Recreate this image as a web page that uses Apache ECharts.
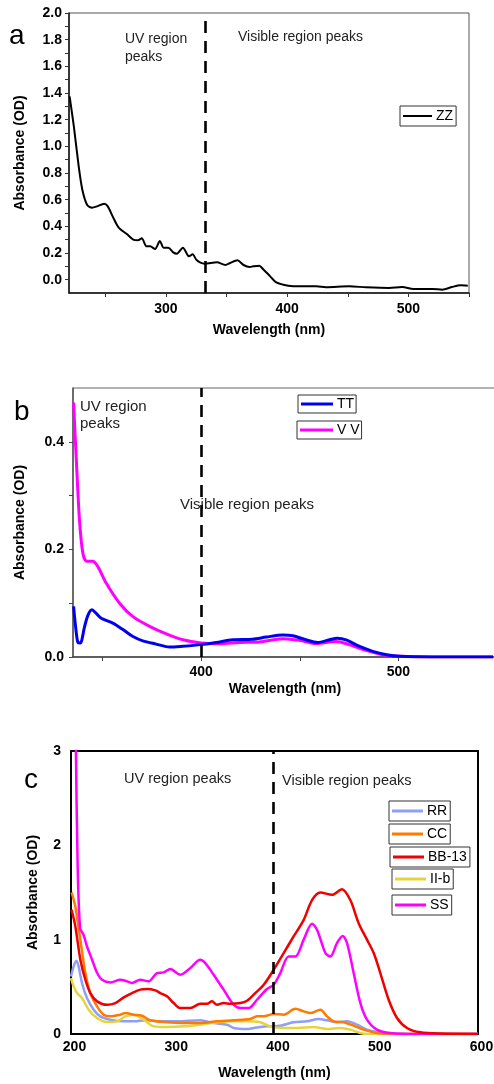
<!DOCTYPE html>
<html><head><meta charset="utf-8">
<script src="https://cdn.jsdelivr.net/npm/echarts@6/dist/echarts.min.js"></script>
<style>html,body{margin:0;padding:0;background:#fff}#c{width:494px;height:1084px}</style>
</head><body><div id="c"></div>
<script>
// ---------- Panel a ----------
const zzWl  = [220.5,224,228,231,235,239,243,249,252,256,261,268,273,277,280,284,287,291,295,298,302,306,309,314,319,322,325,328,332,342,349,353,359,364,369,372,377,380,386,391,401,410,424,432,451,465,484,495,504,520,528,536,543,549];
const zzAbs = [1.375,1.15,0.85,0.675,0.56,0.54,0.55,0.57,0.55,0.475,0.39,0.34,0.30,0.295,0.31,0.25,0.25,0.23,0.29,0.24,0.24,0.205,0.195,0.24,0.175,0.19,0.15,0.13,0.12,0.13,0.11,0.125,0.145,0.11,0.095,0.10,0.105,0.08,0.025,-0.02,-0.045,-0.05,-0.05,-0.057,-0.05,-0.057,-0.062,-0.055,-0.07,-0.07,-0.075,-0.055,-0.042,-0.045];
const aXTicks = [250,300,350,400,450,500,550];
const aXLabels = [300,400,500];
const aYTicks = [0,0.1,0.2,0.3,0.4,0.5,0.6,0.7,0.8,0.9,1.0,1.1,1.2,1.3,1.4,1.5,1.6,1.7,1.8,1.9,2.0];
const aYLabels = [0,0.2,0.4,0.6,0.8,1.0,1.2,1.4,1.6,1.8,2.0];

// ---------- Panel b ----------
const ttWl  = [335.3,336.3,337.5,338.7,340.9,342.6,344.6,346.8,349.3,355.2,360.3,365.4,370.4,377.2,384,390.7,400,407.6,416,426,433,441.4,446.5,453,459,465,469,473.5,480,487,494,500.5,517,548];
const ttAbs = [0.094,0.057,0.027,0.026,0.057,0.078,0.088,0.081,0.072,0.063,0.051,0.038,0.030,0.024,0.0185,0.02,0.023,0.027,0.032,0.033,0.037,0.041,0.0395,0.032,0.027,0.032,0.035,0.032,0.02,0.0105,0.0043,0.0012,0,0];
const vvWl  = [335.3,336.7,338.3,340,342,345,347.6,351.9,358.6,365.4,373.8,382.3,390.7,400,409.3,419.4,429.6,441.4,449.8,458.3,468.4,475,483.6,492,500.5,517,548];
const vvAbs = [0.473,0.365,0.254,0.193,0.178,0.178,0.168,0.137,0.10,0.075,0.057,0.043,0.032,0.026,0.0247,0.027,0.028,0.034,0.031,0.025,0.029,0.023,0.0123,0.0043,0.0012,0,0];
const bXTicks = [350,400,450,500];
const bXLabels = [400,500];
const bYTicks = [0,0.1,0.2,0.3,0.4];
const bYLabels = [0,0.2,0.4];

// ---------- Panel c ----------
const ssWl  = [204.5,206.5,209,212.4,215.7,220.6,225.6,230.5,238.7,248.5,253.4,260,268,276.3,284.5,291,297.6,307.5,317.3,327,332,340.2,350,359.9,366.4,374.6,382.8,392.6,399.2,405.7,413.9,420.5,428.7,436.9,441.8,450,454.9,461.4,467,471.3,477.8,484.4,490.9,500.7,513.8,540,600];
const ssAbs = [3.3,1.8,1.12,1.05,0.93,0.79,0.65,0.575,0.547,0.575,0.565,0.54,0.575,0.558,0.646,0.653,0.688,0.628,0.70,0.787,0.752,0.628,0.47,0.31,0.275,0.275,0.363,0.477,0.522,0.646,0.822,0.822,1.0,1.17,1.105,0.858,0.822,0.964,1.04,0.964,0.646,0.328,0.152,0.046,0.01,0,0];
const bbWl  = [200.6,204.3,209.2,214.1,219,225.6,235.4,243.6,251.8,260,268.1,274.7,282.9,287.8,294.3,300.9,307.5,317.3,327.1,333.7,338.6,343.5,350,356.6,366.4,373,379.5,389.4,399.2,409,418.8,428.7,436.9,445.1,456.6,466.3,474.5,482.7,490.9,497.5,504,512.2,520.4,530.2,543.3,563,600];
const bbAbs = [1.317,1.14,0.787,0.575,0.434,0.346,0.31,0.328,0.388,0.434,0.47,0.476,0.462,0.434,0.40,0.328,0.275,0.275,0.32,0.32,0.346,0.31,0.328,0.32,0.328,0.353,0.417,0.522,0.681,0.858,1.034,1.21,1.42,1.50,1.475,1.535,1.42,1.175,1.0,0.858,0.646,0.363,0.17,0.064,0.018,0.004,0];
const ccWl  = [200.6,204.3,209.2,214.1,219,225.6,232.1,238.7,248.5,253.4,261.6,269.8,278,294.3,310.7,327.1,343.5,359.9,376.3,382.8,389.4,399.2,409,420.5,428.7,435.2,445.1,451.6,458.2,468,477.8,487.6,500.7,523.7,600];
const ccAbs = [1.50,1.35,1.0,0.646,0.434,0.293,0.205,0.187,0.205,0.222,0.205,0.194,0.145,0.124,0.116,0.116,0.134,0.145,0.159,0.187,0.187,0.212,0.205,0.268,0.24,0.222,0.258,0.187,0.134,0.124,0.088,0.046,0.01,0,0];
const rrWl  = [200,202.6,205.2,207.5,210.8,215.7,222.3,228.8,238.7,251.8,261.6,274.7,287.8,304.2,327.1,340.2,353.3,359.9,373,379.5,392.6,405.7,418.8,431.9,443.4,451.6,461.4,471.3,481.1,490.9,507.3,523.7,600];
const rrAbs = [0.61,0.717,0.777,0.717,0.54,0.381,0.258,0.187,0.152,0.134,0.134,0.145,0.134,0.134,0.145,0.116,0.099,0.064,0.053,0.064,0.081,0.088,0.124,0.134,0.159,0.145,0.124,0.134,0.099,0.046,0.01,0,0];
const iiWl  = [200,202.6,205.9,210.8,217.4,225.6,235.4,245.2,253.4,261.6,271.4,281.2,294.3,310.7,327.1,343.5,359.9,373,386.1,395.9,409,422.1,438.5,451.6,464.7,474.5,484.4,490.9,600];
const iiAbs = [0.593,0.505,0.434,0.381,0.258,0.17,0.127,0.134,0.187,0.205,0.152,0.081,0.074,0.081,0.099,0.124,0.134,0.134,0.124,0.081,0.064,0.064,0.074,0.053,0.064,0.046,0.01,0,0];
const cXLabels = [200,300,400,500,600];
const cYLabels = [0,1,2,3];

const dividers = [332, 400, 399];
const panelLetters = ['a','b','c'];

const zip = (a,b)=>a.map((v,i)=>[v,b[i]]);
const FONT = '"Liberation Sans", Arial, sans-serif';
const lblBold = {fontFamily:FONT, fontWeight:'bold', fontSize:14, color:'#000'};
const nameBold = {fontFamily:FONT, fontWeight:'bold', fontSize:14, color:'#000'};

function mk(divX, color){
  return {silent:true, symbol:['none','none'], label:{show:false},
    lineStyle:{color:color||'#000', type:[12,8], width:2.6}, data:[{xAxis:divX}]};
}
function legendBox(name, left, top, extra){
  return Object.assign({
    data:[name], left:left, top:top, orient:'horizontal', selectedMode:false,
    icon:'rect', itemWidth:30, itemHeight:3, itemGap:0,
    padding:[2,3,2,3], borderColor:'#333', borderWidth:1,
    textStyle:{fontFamily:FONT, fontSize:14, color:'#000', lineHeight:16, padding:[0,0,0,-1]}
  }, extra||{});
}

const option = {
  animation:false,
  backgroundColor:'#fff',
  grid:[
    {left:69, top:13, width:400, height:280, show:true, borderColor:'#555', borderWidth:1, backgroundColor:'transparent', outerBoundsMode:'none'},
    {left:73, top:388, width:424, height:269, show:true, borderColor:'#666', borderWidth:1, backgroundColor:'transparent', outerBoundsMode:'none'},
    {left:71, top:751, width:407, height:283, show:true, borderColor:'#000', borderWidth:2, backgroundColor:'transparent', outerBoundsMode:'none'}
  ],
  xAxis:[
    {gridIndex:0, type:'value', min:220, max:550, name:'Wavelength (nm)', nameLocation:'middle', nameGap:30, nameTextStyle:nameBold,
     axisLine:{onZero:false, lineStyle:{color:'#111', width:1.5}},
     axisTick:{show:true, length:4, customValues:aXTicks, lineStyle:{color:'#333'}},
     axisLabel:Object.assign({margin:9, customValues:aXLabels}, lblBold), splitLine:{show:false}},
    {gridIndex:1, type:'value', min:335, max:550, name:'Wavelength (nm)', nameLocation:'middle', nameGap:25, nameTextStyle:nameBold,
     axisLine:{onZero:false, lineStyle:{color:'#444', width:1.5}},
     axisTick:{show:true, length:4, customValues:bXTicks, lineStyle:{color:'#444'}},
     axisLabel:Object.assign({margin:8, customValues:bXLabels}, lblBold), splitLine:{show:false}},
    {gridIndex:2, type:'value', min:200, max:600, interval:100, name:'Wavelength (nm)', nameLocation:'middle', nameGap:32, nameTextStyle:nameBold,
     axisLine:{onZero:false, lineStyle:{color:'#000', width:2}},
     axisTick:{show:false},
     axisLabel:Object.assign({margin:6, customValues:cXLabels, padding:[0,0,0,7]}, lblBold), splitLine:{show:false}}
  ],
  yAxis:[
    {gridIndex:0, type:'value', min:-0.1, max:2.0, name:'Absorbance (OD)', nameLocation:'middle', nameGap:42, nameTextStyle:nameBold,
     axisLine:{onZero:false, lineStyle:{color:'#111', width:1.5}},
     axisTick:{show:true, length:4, customValues:aYTicks, lineStyle:{color:'#333'}},
     axisLabel:Object.assign({margin:7, customValues:aYLabels, formatter:v=>Number(v).toFixed(1)}, lblBold), splitLine:{show:false}},
    {gridIndex:1, type:'value', min:0, max:0.5, name:'Absorbance (OD)', nameLocation:'middle', nameGap:46, nameTextStyle:nameBold,
     axisLine:{onZero:false, lineStyle:{color:'#555', width:1.5}},
     axisTick:{show:true, length:4, customValues:bYTicks, lineStyle:{color:'#444'}},
     axisLabel:Object.assign({margin:9, customValues:bYLabels, formatter:v=>Number(v).toFixed(1)}, lblBold), splitLine:{show:false}},
    {gridIndex:2, type:'value', min:0, max:3, interval:1, name:'Absorbance (OD)', nameLocation:'middle', nameGap:31, nameTextStyle:nameBold,
     axisLine:{onZero:false, lineStyle:{color:'#000', width:2}},
     axisTick:{show:false},
     axisLabel:Object.assign({margin:10, customValues:cYLabels}, lblBold), splitLine:{show:false}}
  ],
  legend:[
    legendBox('ZZ', 400, 106, {itemWidth:29, itemHeight:2}),
    legendBox('TT', 298, 395, {itemWidth:32, padding:[1,2,1,3]}),
    legendBox('V V', 297, 421, {itemWidth:33, padding:[1,2,1,3]}),
    legendBox('RR', 389, 801, {itemWidth:31}),
    legendBox('CC', 389, 824, {itemWidth:31}),
    legendBox('BB-13', 390, 847, {itemWidth:31}),
    legendBox('II-b', 392, 869, {itemWidth:31}),
    legendBox('SS', 392, 895, {itemWidth:31})
  ],
  series:[
    {name:'ZZ', type:'line', xAxisIndex:0, yAxisIndex:0, data:zip(zzWl,zzAbs), smooth:0.25, showSymbol:false, symbol:'none',
     lineStyle:{color:'#000', width:2}, itemStyle:{color:'#000'}, markLine:mk(dividers[0])},
    {name:'TT', type:'line', xAxisIndex:1, yAxisIndex:1, data:zip(ttWl,ttAbs), smooth:0.3, symbol:'none', z:3,
     lineStyle:{color:'#0000ee', width:3}, itemStyle:{color:'#0000ee'}, markLine:mk(dividers[1])},
    {name:'V V', type:'line', xAxisIndex:1, yAxisIndex:1, data:zip(vvWl,vvAbs), smooth:0.3, symbol:'none', z:2,
     lineStyle:{color:'#ff00ff', width:3}, itemStyle:{color:'#ff00ff'}},
    {name:'RR', type:'line', xAxisIndex:2, yAxisIndex:2, data:zip(rrWl,rrAbs), smooth:0.3, symbol:'none',
     lineStyle:{color:'#8f9ff5', width:2.5}, itemStyle:{color:'#8f9ff5'}, markLine:mk(dividers[2])},
    {name:'II-b', type:'line', xAxisIndex:2, yAxisIndex:2, data:zip(iiWl,iiAbs), smooth:0.3, symbol:'none',
     lineStyle:{color:'#e5d53a', width:2.5}, itemStyle:{color:'#e5d53a'}},
    {name:'CC', type:'line', xAxisIndex:2, yAxisIndex:2, data:zip(ccWl,ccAbs), smooth:0.3, symbol:'none',
     lineStyle:{color:'#ff7a00', width:2.5}, itemStyle:{color:'#ff7a00'}},
    {name:'SS', type:'line', xAxisIndex:2, yAxisIndex:2, data:zip(ssWl,ssAbs), smooth:0.3, symbol:'none', clip:true,
     lineStyle:{color:'#ff00ff', width:2.5}, itemStyle:{color:'#ff00ff'}},
    {name:'BB-13', type:'line', xAxisIndex:2, yAxisIndex:2, data:zip(bbWl,bbAbs), smooth:0.3, symbol:'none',
     lineStyle:{color:'#f00000', width:2.5}, itemStyle:{color:'#f00000'}}
  ],
  graphic:[
    {type:'text', left:9, top:22, style:{text:panelLetters[0], font:'28px '+FONT, fill:'#000'}},
    {type:'text', left:14, top:398, style:{text:panelLetters[1], font:'28px '+FONT, fill:'#000'}},
    {type:'text', left:24, top:766, style:{text:panelLetters[2], font:'28px '+FONT, fill:'#000'}},
    {type:'text', left:125, top:30, style:{text:'UV region\npeaks', font:'14px '+FONT, lineHeight:18, fill:'#222'}},
    {type:'text', left:238, top:30, style:{text:'Visible region peaks', font:'14px '+FONT, fill:'#222'}},
    {type:'text', left:80, top:398, style:{text:'UV region\npeaks', font:'15px '+FONT, lineHeight:17, fill:'#222'}},
    {type:'text', left:180, top:497, style:{text:'Visible region peaks', font:'15px '+FONT, fill:'#222'}},
    {type:'text', left:124, top:771, style:{text:'UV region peaks', font:'14.5px '+FONT, fill:'#222'}},
    {type:'text', left:282, top:773, style:{text:'Visible region peaks', font:'14.5px '+FONT, fill:'#222'}}
  ]
};
const chart = echarts.init(document.getElementById('c'), null, {renderer:'canvas'});
chart.setOption(option);
</script></body></html>
